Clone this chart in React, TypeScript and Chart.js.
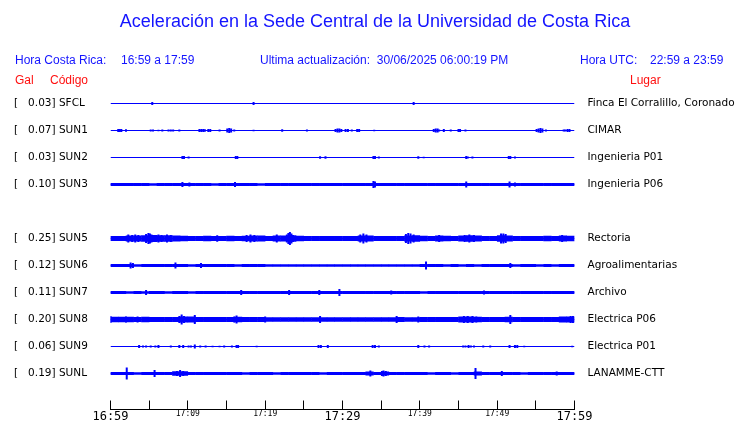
import React, { useEffect, useRef } from 'react';
import { Chart, registerables } from 'chart.js';

Chart.register(...registerables);

// ---------- texts ----------
const TITLE = 'Aceleración en la Sede Central de la Universidad de Costa Rica';
const HORA_CR_LABEL = 'Hora Costa Rica:';
const HORA_CR = '16:59 a 17:59';
const ACTUALIZACION = 'Ultima actualización:  30/06/2025 06:00:19 PM';
const HORA_UTC_LABEL = 'Hora UTC:';
const HORA_UTC = '22:59 a 23:59';
const HEAD_GAL = 'Gal';
const HEAD_CODIGO = 'Código';
const HEAD_LUGAR = 'Lugar';

// ---------- data ----------
const codes = ['SFCL', 'SUN1', 'SUN2', 'SUN3', 'SUN5', 'SUN6', 'SUN7', 'SUN8', 'SUN9', 'SUNL'];
const peakGal = [0.03, 0.07, 0.03, 0.1, 0.25, 0.12, 0.11, 0.2, 0.06, 0.19];
const places = [
  'Finca El Corralillo, Coronado',
  'CIMAR',
  'Ingenieria P01',
  'Ingenieria P06',
  'Rectoria',
  'Agroalimentarias',
  'Archivo',
  'Electrica P06',
  'Electrica P01',
  'LANAMME-CTT',
];
const rows = [0, 1, 2, 3, 5, 6, 7, 8, 9, 10];
const timeLabels = ['16:59', '17:09', '17:19', '17:29', '17:39', '17:49', '17:59'];

// envelope (half amplitude per minute, trace units; row spacing = 10)
const envSFCL: number[] = [];
const envSUN1: number[] = [];
const envSUN2: number[] = [];
const envSUN3 = [
  0.56, 0.56, 0.56, 0.56, 0.56, 0.5, 0.56, 0.56, 0.56, 0.6,
  0.56, 0.56, 0.56, 0.5, 0.56, 0.56, 0.56, 0.56, 0.56, 0.5,
  0.56, 0.56, 0.56, 0.56, 0.56, 0.56, 0.56, 0.56, 0.56, 0.56,
  0.56, 0.56, 0.56, 0.56, 0.6, 0.56, 0.56, 0.56, 0.56, 0.56,
  0.56, 0.56, 0.56, 0.56, 0.56, 0.56, 0.6, 0.56, 0.56, 0.56,
  0.56, 0.6, 0.56, 0.56, 0.56, 0.56, 0.56, 0.56, 0.56, 0.56,
];
const envSUN5 = [
  0.93, 0.95, 1.1, 1.1, 1.2, 1.3, 1.2, 1.2, 1.1, 1.0,
  0.93, 0.93, 1.0, 0.93, 0.93, 1.0, 0.93, 1.0, 1.1, 1.1,
  0.93, 1.1, 1.1, 1.2, 1.0, 0.93, 0.93, 0.93, 0.93, 0.93,
  0.93, 0.93, 1.1, 1.1, 0.93, 0.93, 0.93, 0.93, 1.1, 1.2,
  1.0, 0.93, 1.1, 1.0, 0.93, 1.1, 1.2, 1.1, 0.93, 0.93,
  1.2, 1.1, 0.93, 0.93, 0.93, 0.93, 1.0, 0.93, 1.1, 1.0,
];
const envSUN6 = [
  0.56, 0.56, 0.56, 0.5, 0.56, 0.56, 0.56, 0.56, 0.56, 0.56,
  0.5, 0.56, 0.56, 0.56, 0.56, 0.56, 0.5, 0.56, 0.56, 0.56,
  0.5, 0.5, 0.45, 0.5, 0.5, 0.45, 0.5, 0.5, 0.45, 0.5,
  0.5, 0.45, 0.5, 0.5, 0.45, 0.5, 0.5, 0.45, 0.5, 0.5,
  0.56, 0.56, 0.56, 0.5, 0.56, 0.5, 0.56, 0.5, 0.56, 0.56,
  0.56, 0.56, 0.5, 0.56, 0.56, 0.5, 0.56, 0.5, 0.56, 0.56,
];
const envSUN7 = [
  0.56, 0.56, 0.5, 0.56, 0.5, 0.56, 0.56, 0.5, 0.56, 0.56,
  0.5, 0.56, 0.56, 0.56, 0.56, 0.56, 0.56, 0.56, 0.56, 0.56,
  0.56, 0.56, 0.56, 0.56, 0.56, 0.56, 0.56, 0.56, 0.56, 0.56,
  0.56, 0.56, 0.56, 0.56, 0.56, 0.56, 0.56, 0.56, 0.56, 0.56,
  0.5, 0.56, 0.56, 0.56, 0.56, 0.56, 0.56, 0.56, 0.56, 0.56,
  0.56, 0.56, 0.56, 0.56, 0.56, 0.56, 0.56, 0.56, 0.56, 0.56,
];
const envSUN8 = [
  1.0, 1.0, 1.0, 0.93, 1.0, 0.93, 0.93, 0.93, 0.93, 1.1,
  1.1, 0.93, 0.93, 0.93, 0.93, 0.93, 1.0, 0.93, 0.93, 0.93,
  0.85, 0.8, 0.85, 0.8, 0.8, 0.85, 0.8, 0.85, 0.8, 0.8,
  0.8, 0.85, 0.8, 0.8, 0.8, 0.85, 0.8, 0.9, 0.8, 0.85,
  0.93, 0.93, 0.93, 0.93, 0.93, 1.1, 1.1, 1.0, 0.93, 0.93,
  0.93, 1.0, 0.93, 0.93, 0.93, 0.93, 0.93, 0.93, 1.1, 1.1,
];
const envSUN9: number[] = [];
const envSUNL = [
  0.56, 0.56, 0.56, 0.5, 0.56, 0.56, 0.56, 0.56, 0.8, 0.8,
  0.56, 0.56, 0.56, 0.56, 0.56, 0.56, 0.56, 0.5, 0.56, 0.56,
  0.56, 0.5, 0.56, 0.56, 0.56, 0.56, 0.56, 0.5, 0.56, 0.56,
  0.56, 0.56, 0.56, 0.7, 0.56, 0.75, 0.56, 0.56, 0.56, 0.56,
  0.56, 0.5, 0.56, 0.56, 0.5, 0.56, 0.56, 0.7, 0.56, 0.56,
  0.6, 0.56, 0.56, 0.5, 0.56, 0.56, 0.56, 0.56, 0.56, 0.6,
];

// spikes: [minute, half amplitude]
const peaksSFCL = [[5.4, 0.56], [18.5, 0.56], [39.2, 0.56]];
const peaksSUN1 = [
  [1.0, 0.56], [1.2, 0.56], [1.4, 0.56], [2.0, 0.45], [5.2, 0.4], [5.5, 0.4], [6.2, 0.3], [6.7, 0.4],
  [7.5, 0.4], [7.8, 0.4], [8.1, 0.4], [8.9, 0.4], [11.5, 0.56], [11.75, 0.56], [12.0, 0.56], [12.2, 0.45],
  [12.65, 0.56], [12.9, 0.56], [14.1, 0.4], [15.1, 0.75], [15.35, 0.93], [15.6, 0.75], [16.0, 0.4],
  [18.5, 0.3], [22.2, 0.45], [25.4, 0.4], [29.1, 0.56], [29.35, 0.75], [29.6, 0.75], [29.85, 0.56],
  [30.4, 0.56], [30.7, 0.56], [31.2, 0.4], [31.9, 0.56], [32.15, 0.56], [34.1, 0.3], [41.8, 0.56],
  [42.05, 0.75], [42.3, 0.75], [42.5, 0.4], [43.1, 0.56], [44.0, 0.4], [45.0, 0.56], [45.2, 0.56],
  [45.9, 0.4], [55.1, 0.56], [55.35, 0.75], [55.6, 0.93], [55.85, 0.75], [56.3, 0.4], [58.6, 0.4],
  [58.8, 0.4], [59.1, 0.56], [59.35, 0.56],
];
const peaksSUN2 = [
  [9.3, 0.56], [9.5, 0.56], [10.1, 0.4], [16.2, 0.56], [16.4, 0.56], [27.1, 0.45], [27.8, 0.45],
  [34.0, 0.56], [34.2, 0.56], [34.7, 0.4], [39.8, 0.45], [40.5, 0.3], [46.0, 0.56], [46.2, 0.4],
  [46.8, 0.4], [51.5, 0.56], [51.7, 0.56], [52.3, 0.4],
];
const peaksSUN3 = [
  [9.3, 0.93], [10.2, 0.75], [16.1, 0.93], [34.0, 1.3], [34.2, 1.1], [46.0, 1.1], [51.6, 1.1], [52.3, 0.75],
];
const peaksSUN5 = [
  [2.3, 1.5], [2.8, 1.3], [3.2, 1.5], [3.6, 1.3], [4.6, 1.65], [4.9, 2.05], [5.1, 1.85], [5.3, 1.5],
  [6.2, 1.5], [6.6, 1.3], [7.3, 1.5], [7.8, 1.3], [13.8, 1.2], [17.6, 1.3], [18.1, 1.5], [18.6, 1.3],
  [21.5, 1.5], [22.8, 1.5], [23.0, 2.05], [23.2, 2.4], [23.4, 1.85], [23.6, 1.3], [32.3, 1.5],
  [32.7, 1.85], [33.1, 1.5], [38.2, 1.65], [38.5, 2.05], [38.8, 1.85], [39.2, 1.5], [42.5, 1.3],
  [45.8, 1.3], [46.4, 1.5], [47.0, 1.3], [50.5, 1.85], [50.8, 1.85], [51.1, 1.65], [58.4, 1.3],
];
const peaksSUN6 = [[2.6, 1.1], [2.9, 0.93], [8.4, 1.1], [11.7, 0.93], [40.8, 1.5], [51.7, 0.93]];
const peaksSUN7 = [[4.6, 0.93], [16.9, 0.93], [23.1, 0.93], [27.0, 0.93], [29.6, 1.3], [36.3, 0.75], [48.3, 0.75]];
const peaksSUN8 = [
  [0.0, 1.3], [2.0, 1.1], [3.5, 1.1], [8.9, 1.3], [9.2, 1.85], [9.5, 1.3], [10.9, 1.65], [16.0, 1.1],
  [16.3, 1.5], [20.0, 1.1], [27.1, 1.3], [37.0, 1.3], [39.8, 1.1], [45.7, 1.3], [46.2, 1.3], [46.8, 1.3],
  [47.3, 1.1], [51.7, 1.65], [59.5, 1.3], [59.8, 1.3],
];
const peaksSUN9 = [
  [3.7, 0.56], [4.2, 0.4], [4.6, 0.4], [5.2, 0.4], [5.8, 0.4], [6.2, 0.56], [7.8, 0.4], [8.9, 0.56],
  [9.4, 0.56], [10.1, 0.4], [10.4, 0.4], [10.9, 0.75], [11.6, 0.4], [12.3, 0.4], [13.2, 0.3], [14.1, 0.3],
  [14.7, 0.4], [15.7, 0.4], [16.3, 0.56], [16.5, 0.56], [18.9, 0.3], [26.9, 0.56], [27.2, 0.56],
  [28.1, 0.56], [33.9, 0.56], [34.2, 0.56], [34.7, 0.4], [39.8, 0.56], [40.6, 0.4], [41.2, 0.4],
  [45.6, 0.4], [45.9, 0.4], [46.3, 0.56], [46.6, 0.4], [47.0, 0.4], [48.2, 0.4], [49.1, 0.4],
  [51.6, 0.56], [52.3, 0.56], [52.6, 0.56], [53.5, 0.3], [59.7, 0.3],
];
const peaksSUNL = [
  [2.1, 2.2], [5.7, 1.3], [8.6, 0.93], [9.0, 1.3], [9.4, 0.93], [33.6, 1.1], [35.1, 0.93], [35.3, 1.1],
  [35.6, 0.93], [47.2, 2.05], [50.6, 0.93], [57.7, 0.75],
];

const envs = [envSFCL, envSUN1, envSUN2, envSUN3, envSUN5, envSUN6, envSUN7, envSUN8, envSUN9, envSUNL];
const peaksList = [peaksSFCL, peaksSUN1, peaksSUN2, peaksSUN3, peaksSUN5, peaksSUN6, peaksSUN7, peaksSUN8, peaksSUN9, peaksSUNL];

// ---------- styles ----------
const TRACE_BLUE = '#0000ff';
const TEXT_BLUE = '#1414ff';
const TEXT_RED = '#ff1010';
const ROW_STEP = 10;

const fmtGal = (g: number) => `[   ${g.toFixed(2)}] `;
const leftLabels = codes.map((c, i) => fmtGal(peakGal[i]) + c);

const overlayPlugin = {
  id: 'overlay',
  afterDraw(chart: any) {
    const ctx = chart.ctx as CanvasRenderingContext2D;
    const xs = chart.scales.x;
    const bottom = chart.chartArea.bottom;
    ctx.save();
    // tick marks pointing up
    ctx.strokeStyle = '#000';
    ctx.lineWidth = 1;
    ctx.beginPath();
    xs.ticks.forEach((t: any) => {
      const px = Math.round(xs.getPixelForValue(t.value) - 0.5) + 0.5;
      ctx.moveTo(px, bottom - 9);
      ctx.lineTo(px, bottom);
    });
    ctx.stroke();

    // header texts
    ctx.textBaseline = 'middle';
    ctx.fillStyle = TEXT_BLUE;
    ctx.font = '18px "Liberation Sans"';
    ctx.textAlign = 'center';
    ctx.fillText(TITLE, 375, 22);
    ctx.textAlign = 'left';
    ctx.font = '12px "Liberation Sans"';
    ctx.fillText(HORA_CR_LABEL, 15, 61);
    ctx.fillText(HORA_CR, 121, 61);
    ctx.fillText(ACTUALIZACION, 260, 61);
    ctx.fillText(HORA_UTC_LABEL, 580, 61);
    ctx.fillText(HORA_UTC, 650, 61);
    ctx.fillStyle = TEXT_RED;
    ctx.fillText(HEAD_GAL, 15, 81);
    ctx.fillText(HEAD_CODIGO, 50, 81);
    ctx.fillText(HEAD_LUGAR, 630, 81);
    ctx.restore();
  },
};

export default function App() {
  const ref = useRef<HTMLCanvasElement | null>(null);

  useEffect(() => {
    if (!ref.current) return;
    const datasets: any[] = [];
    codes.forEach((code, i) => {
      const c = rows[i] * ROW_STEP;
      datasets.push({
        type: 'line',
        label: code,
        data: [{ x: 0, y: c }, { x: 60, y: c }],
        borderColor: TRACE_BLUE,
        borderWidth: 1,
        pointRadius: 0,
        xAxisID: 'x',
        yAxisID: 'y',
      });
      if (envs[i].length) {
        datasets.push({
          type: 'bar',
          label: code + ' env',
          data: envs[i].map((a, m) => ({ x: m + 0.5, y: [c - a, c + a] })),
          backgroundColor: TRACE_BLUE,
          borderWidth: 0,
          inflateAmount: 0,
          grouped: false,
          barPercentage: 1.06,
          categoryPercentage: 1,
          xAxisID: 'x',
          yAxisID: 'y',
        });
      }
      datasets.push({
        type: 'bar',
        label: code + ' peaks',
        data: peaksList[i].map(([m, a]) => ({ x: m, y: [c - a, c + a] })),
        backgroundColor: TRACE_BLUE,
        borderWidth: 0,
        inflateAmount: 0,
        grouped: false,
        barThickness: 2,
        xAxisID: 'xp',
        yAxisID: 'y',
      });
    });

    const yCommon = {
      type: 'linear',
      reverse: true,
      min: -5,
      max: 113.3333,
      afterBuildTicks: (s: any) => {
        s.ticks = rows.map((r) => ({ value: r * ROW_STEP }));
      },
      grid: { display: false, drawTicks: false, tickLength: 0 },
      border: { display: false },
    };

    const chart = new Chart(ref.current, {
      type: 'line',
      data: { datasets },
      plugins: [overlayPlugin],
      options: {
        animation: false,
        responsive: false,
        devicePixelRatio: 1,
        events: [],
        layout: { padding: { top: 90, left: 14, right: 0, bottom: 0 } },
        plugins: { legend: { display: false }, tooltip: { enabled: false }, title: { display: false } },
        scales: {
          x: {
            type: 'linear',
            position: 'bottom',
            offset: false,
            min: 0,
            max: 60,
            afterFit: (s: any) => {
              s.height = 13.5;
              s.paddingLeft = 0;
              s.paddingRight = 0;
            },
            grid: { display: true, offset: false, drawOnChartArea: false, drawTicks: false },
            border: { display: true, color: '#000', width: 1 },
            ticks: {
              stepSize: 5,
              autoSkip: false,
              maxRotation: 0,
              padding: 0,
              color: '#000',
              font: (ctx: any) => ({
                family: '"DejaVu Sans Mono"',
                size: ctx.tick && ctx.tick.value % 30 === 0 ? 12 : 8,
              }),
              callback: (v: any) => (Number(v) % 10 === 0 ? timeLabels[Number(v) / 10] : ''),
            },
          },
          xp: { type: 'linear', offset: false, grid: { offset: false }, min: 0, max: 60, display: false },
          y: {
            ...yCommon,
            position: 'left',
            afterFit: (s: any) => {
              s.width = 96.5;
              s.paddingTop = 0;
              s.paddingBottom = 0;
            },
            ticks: {
              crossAlign: 'far',
              padding: 0,
              autoSkip: false,
              color: '#000',
              font: { family: '"DejaVu Sans"', size: 10.5 },
              callback: (_v: any, idx: number) => leftLabels[idx],
            },
          },
          yr: {
            ...yCommon,
            position: 'right',
            afterFit: (s: any) => {
              s.width = 165.5;
              s.paddingTop = 0;
              s.paddingBottom = 0;
            },
            ticks: {
              crossAlign: 'near',
              padding: 13,
              autoSkip: false,
              color: '#000',
              font: { family: '"DejaVu Sans"', size: 10.5 },
              callback: (_v: any, idx: number) => places[idx],
            },
          },
        } as any,
      },
    } as any);
    return () => chart.destroy();
  }, []);

  return (
    <div style={{ position: 'absolute', left: 0, top: 0, width: 740, height: 423, background: '#fff' }}>
      <canvas ref={ref} width={740} height={423} style={{ display: 'block' }} />
    </div>
  );
}
